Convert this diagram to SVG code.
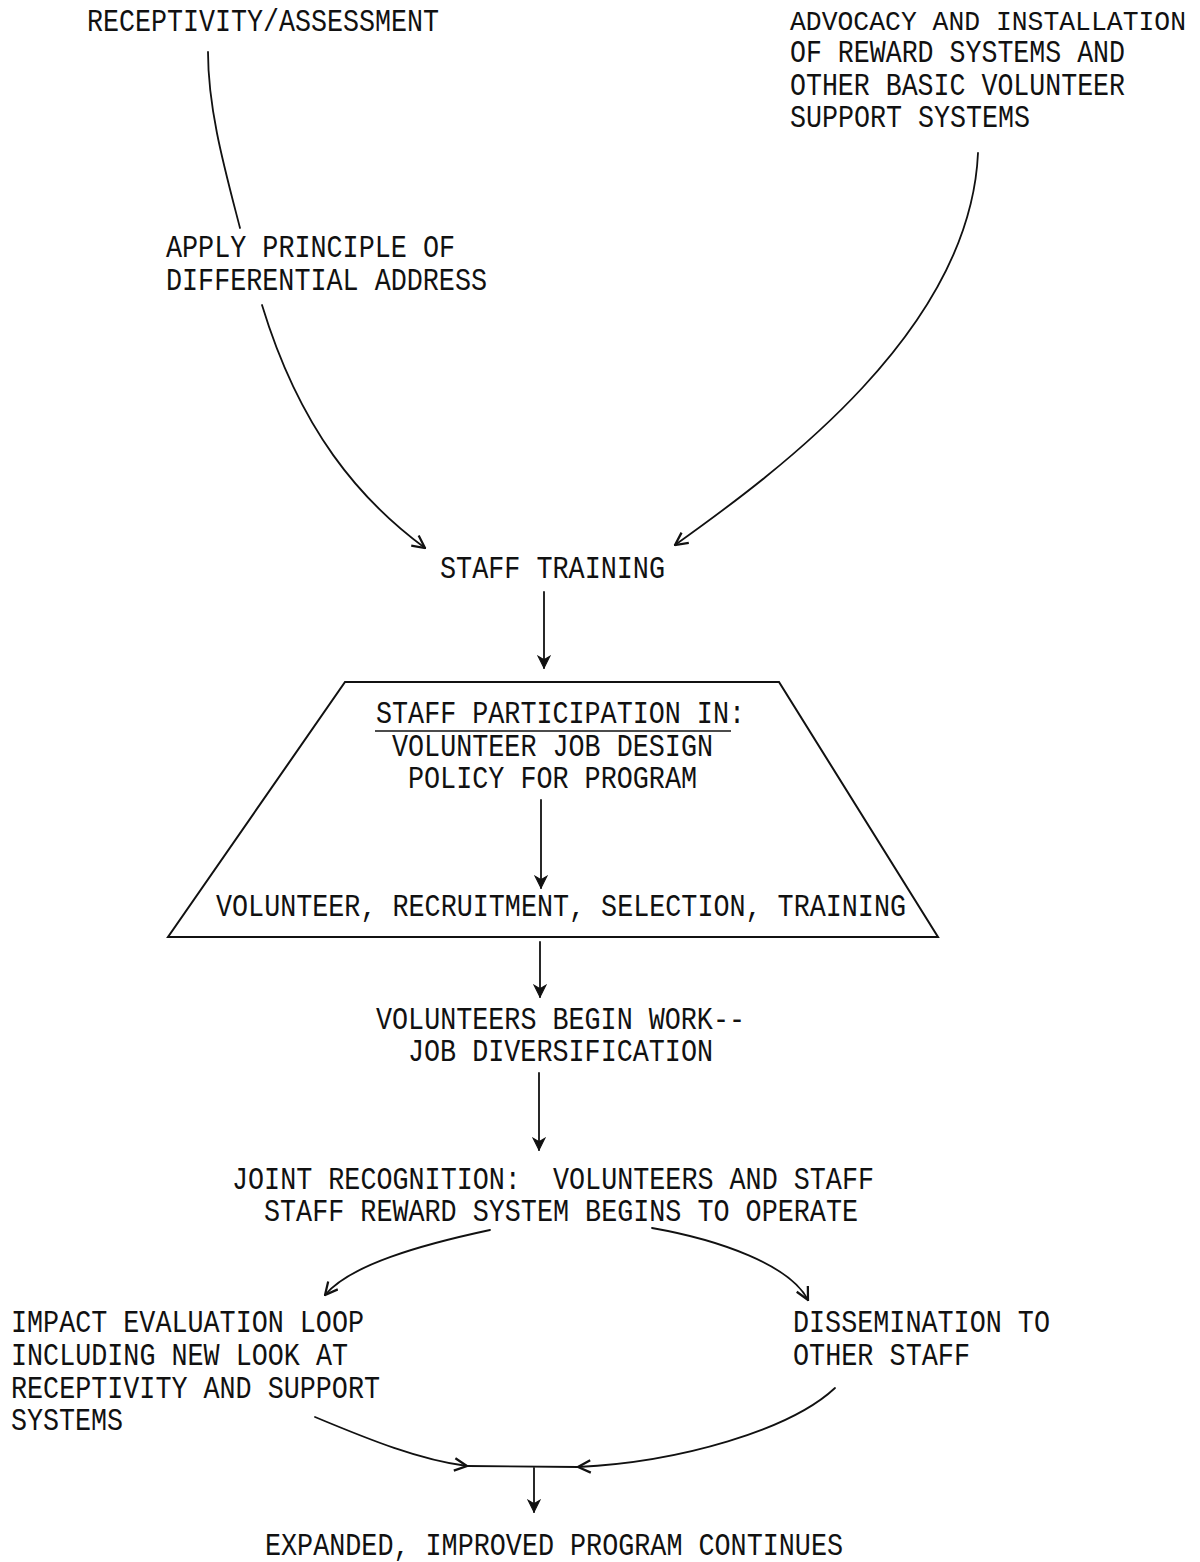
<svg xmlns="http://www.w3.org/2000/svg" width="1200" height="1562" viewBox="0 0 1200 1562">
<style>
.t{font-family:"Liberation Mono","DejaVu Sans Mono",monospace;font-size:31px;fill:#111;}
.c{fill:none;stroke:#111;stroke-width:1.8;stroke-linecap:round;}
</style>
<defs>
<marker id="ah" viewBox="0 0 12 12" refX="11" refY="6" markerWidth="15" markerHeight="15" markerUnits="userSpaceOnUse" orient="auto">
<path d="M1,1 L11,6 L1,11" fill="none" stroke="#111" stroke-width="1.8"/>
</marker>
<marker id="ahs" viewBox="0 0 12 12" refX="11" refY="6" markerWidth="14" markerHeight="14" markerUnits="userSpaceOnUse" orient="auto">
<path d="M1,1 L11,6 L1,11 L4,6 Z" fill="#111" stroke="#111" stroke-width="1"/>
</marker>
</defs>
<rect width="1200" height="1562" fill="#fff"/>

<g id="n-receptivity"><text class="t" x="87" y="31" textLength="352" lengthAdjust="spacingAndGlyphs">RECEPTIVITY/ASSESSMENT</text></g>
<g id="n-advocacy">
<text class="t" x="790" y="30" style="font-size:27px" textLength="396" lengthAdjust="spacingAndGlyphs">ADVOCACY AND INSTALLATION</text>
<text class="t" x="790" y="62" textLength="335" lengthAdjust="spacingAndGlyphs">OF REWARD SYSTEMS AND</text>
<text class="t" x="790" y="95" textLength="335" lengthAdjust="spacingAndGlyphs">OTHER BASIC VOLUNTEER</text>
<text class="t" x="790" y="127" textLength="240" lengthAdjust="spacingAndGlyphs">SUPPORT SYSTEMS</text>
</g>
<g id="n-apply">
<text class="t" x="166" y="257" textLength="289" lengthAdjust="spacingAndGlyphs">APPLY PRINCIPLE OF</text>
<text class="t" x="166" y="290" textLength="321" lengthAdjust="spacingAndGlyphs">DIFFERENTIAL ADDRESS</text>
</g>
<g id="n-stafftraining"><text class="t" x="440" y="578" textLength="225" lengthAdjust="spacingAndGlyphs">STAFF TRAINING</text></g>
<g id="n-participation">
<polygon points="345,682 779,682 938,937 168,937" fill="none" stroke="#111" stroke-width="2"/>
<text class="t" x="376" y="723" textLength="369" lengthAdjust="spacingAndGlyphs">STAFF PARTICIPATION IN:</text>
<line x1="375" y1="731" x2="731" y2="731" stroke="#111" stroke-width="1.5"/>
<text class="t" x="392" y="756" textLength="321" lengthAdjust="spacingAndGlyphs">VOLUNTEER JOB DESIGN</text>
<text class="t" x="408" y="788" textLength="289" lengthAdjust="spacingAndGlyphs">POLICY FOR PROGRAM</text>
<text class="t" x="216" y="916" textLength="690" lengthAdjust="spacingAndGlyphs">VOLUNTEER, RECRUITMENT, SELECTION, TRAINING</text>
</g>
<g id="n-begin">
<text class="t" x="376" y="1029" textLength="369" lengthAdjust="spacingAndGlyphs">VOLUNTEERS BEGIN WORK--</text>
<text class="t" x="408" y="1061" textLength="305" lengthAdjust="spacingAndGlyphs">JOB DIVERSIFICATION</text>
</g>
<g id="n-joint">
<text class="t" x="232" y="1189" textLength="642" lengthAdjust="spacingAndGlyphs" xml:space="preserve">JOINT RECOGNITION:  VOLUNTEERS AND STAFF</text>
<text class="t" x="264" y="1221" textLength="594" lengthAdjust="spacingAndGlyphs">STAFF REWARD SYSTEM BEGINS TO OPERATE</text>
</g>
<g id="n-impact">
<text class="t" x="11" y="1332" textLength="353" lengthAdjust="spacingAndGlyphs">IMPACT EVALUATION LOOP</text>
<text class="t" x="11" y="1365" textLength="337" lengthAdjust="spacingAndGlyphs">INCLUDING NEW LOOK AT</text>
<text class="t" x="11" y="1398" textLength="369" lengthAdjust="spacingAndGlyphs">RECEPTIVITY AND SUPPORT</text>
<text class="t" x="11" y="1430" textLength="112" lengthAdjust="spacingAndGlyphs">SYSTEMS</text>
</g>
<g id="n-dissemination">
<text class="t" x="793" y="1332" textLength="257" lengthAdjust="spacingAndGlyphs">DISSEMINATION TO</text>
<text class="t" x="793" y="1365" textLength="177" lengthAdjust="spacingAndGlyphs">OTHER STAFF</text>
</g>
<g id="n-expanded"><text class="t" x="265" y="1555" textLength="578" lengthAdjust="spacingAndGlyphs">EXPANDED, IMPROVED PROGRAM CONTINUES</text></g>

<g id="connectors">
<path class="c" d="M208,52 C208,110 225,170 240,228"/>
<path class="c" d="M262,305 C300,430 360,500 425,548" marker-end="url(#ah)"/>
<path class="c" d="M978,153 C970,330 780,470 675,545" marker-end="url(#ah)"/>
<path class="c" d="M544,592 L544,668" marker-end="url(#ahs)"/>
<path class="c" d="M541,800 L541,888" marker-end="url(#ahs)"/>
<path class="c" d="M540,942 L540,997" marker-end="url(#ahs)"/>
<path class="c" d="M539,1073 L539,1150" marker-end="url(#ahs)"/>
<path class="c" d="M490,1230 C420,1245 350,1265 325,1295" marker-end="url(#ah)"/>
<path class="c" d="M652,1228 C720,1240 790,1265 808,1300" marker-end="url(#ah)"/>
<path class="c" d="M315,1417 C370,1440 420,1460 467,1466" marker-end="url(#ah)"/>
<path class="c" d="M835,1388 C790,1430 680,1462 578,1467" marker-end="url(#ah)"/>
<path class="c" d="M467,1466 L578,1467"/>
<path class="c" d="M534,1468 L534,1512" marker-end="url(#ahs)"/>
</g>
</svg>
